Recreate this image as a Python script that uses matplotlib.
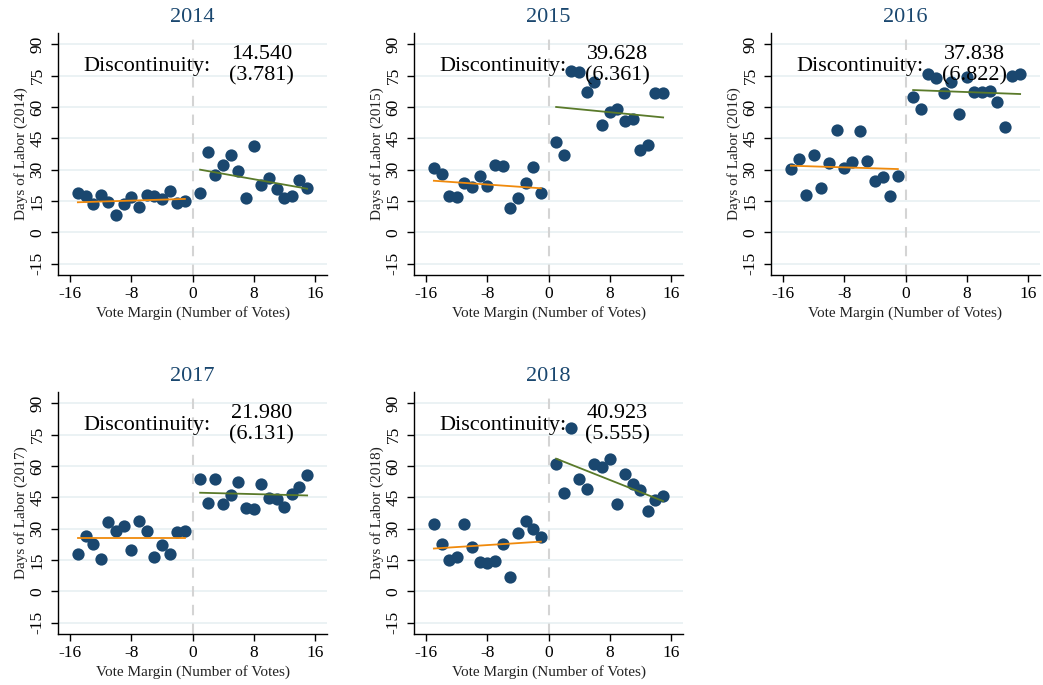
import matplotlib
matplotlib.use("Agg")
import matplotlib.pyplot as plt
import numpy as np

plt.rcParams['font.family'] = ['Liberation Serif', 'DejaVu Serif']
plt.rcParams['axes.unicode_minus'] = False

years = ["2014", "2015", "2016", "2017", "2018"]
x_left = [-15, -14, -13, -12, -11, -10, -9, -8, -7, -6, -5, -4, -3, -2, -1]
x_right = [1, 2, 3, 4, 5, 6, 7, 8, 9, 10, 11, 12, 13, 14, 15]

y_left_2014 = [18.7, 17.4, 13.6, 17.9, 14.7, 8.1, 13.6, 17.1, 12.3, 18.0, 17.4, 16.0, 19.8, 14.0, 15.0]
y_right_2014 = [19.0, 38.3, 27.4, 32.1, 36.9, 29.5, 16.6, 41.5, 22.7, 25.8, 20.6, 16.6, 17.4, 25.1, 21.2]
y_left_2015 = [30.6, 27.8, 17.6, 17.1, 23.8, 21.9, 27.1, 22.3, 32.1, 31.9, 11.5, 16.6, 23.5, 31.4, 18.7]
y_right_2015 = [43.4, 37.0, 77.4, 76.6, 67.3, 72.1, 51.4, 57.4, 59.0, 53.5, 54.3, 39.4, 41.8, 66.5, 66.5]
y_left_2016 = [30.5, 34.9, 17.7, 36.9, 21.4, 33.4, 49.0, 30.6, 33.8, 48.5, 34.1, 24.6, 26.3, 17.6, 27.1]
y_right_2016 = [64.9, 59.2, 75.8, 74.0, 66.5, 72.1, 56.6, 74.5, 67.0, 67.0, 67.7, 62.6, 50.6, 74.8, 75.8]
y_left_2017 = [17.9, 26.7, 22.9, 15.5, 33.1, 28.8, 31.2, 19.7, 33.9, 28.8, 16.5, 22.1, 17.9, 28.3, 29.1]
y_right_2017 = [54.0, 42.4, 53.9, 41.9, 46.0, 52.4, 40.1, 39.2, 51.2, 44.8, 44.0, 40.3, 46.4, 49.9, 55.6]
y_left_2018 = [32.4, 22.9, 15.2, 16.5, 32.4, 21.1, 14.1, 13.6, 14.7, 22.7, 6.9, 28.0, 33.6, 30.0, 25.9]
y_right_2018 = [61.1, 47.2, 78.0, 54.0, 49.1, 61.1, 59.7, 63.5, 41.6, 56.4, 51.6, 48.3, 38.4, 43.7, 45.6]

# fitted line endpoints (x = -15 -> -1, and 1 -> 15)
fit_x_left = [-15, -1]
fit_x_right = [1, 15]
fit_left = {"2014": [14.4, 16.0], "2015": [24.7, 21.1], "2016": [31.9, 30.3],
            "2017": [25.3, 25.3], "2018": [20.5, 23.8]}
fit_right = {"2014": [30.0, 20.9], "2015": [60.0, 55.0], "2016": [68.1, 66.2],
             "2017": [47.2, 45.9], "2018": [63.5, 43.2]}

disc = ["14.540", "39.628", "37.838", "21.980", "40.923"]
se = ["(3.781)", "(6.361)", "(6.822)", "(6.131)", "(5.555)"]

y_left = [y_left_2014, y_left_2015, y_left_2016, y_left_2017, y_left_2018]
y_right = [y_right_2014, y_right_2015, y_right_2016, y_right_2017, y_right_2018]

xticks = [-16, -8, 0, 8, 16]
yticks = [-15, 0, 15, 30, 45, 60, 75, 90]

navy = "#1a476f"
orange = "#f08a0c"
green = "#5a7a2a"
gridc = "#e8f0f2"

W, H = 1043, 685
fig = plt.figure(figsize=(W / 100, H / 100), dpi=100)
fig.patch.set_facecolor("white")

lefts = [58, 414, 771, 58, 414]
tops = [33, 33, 33, 392, 392]
aw, ah = 269, 242

for i, yr in enumerate(years):
    ax = fig.add_axes([lefts[i] / W, 1 - (tops[i] + ah) / H, aw / W, ah / H])
    ax.set_xlim(-17.6, 17.6)
    ax.set_ylim(-20.4, 95.4)
    ax.set_yticks(yticks)
    ax.set_xticks(xticks)
    for y in yticks:
        ax.axhline(y, color=gridc, lw=1.2, zorder=0)
    ax.axvline(0, color="#d4d4d4", lw=1.5, ls=(0, (5, 4)), zorder=1)
    ax.scatter(x_left, y_left[i], s=78, color=navy, zorder=3, linewidths=0)
    ax.scatter(x_right, y_right[i], s=78, color=navy, zorder=3, linewidths=0)
    ax.plot(fit_x_left, fit_left[yr], color=orange, lw=1.3, zorder=4)
    ax.plot(fit_x_right, fit_right[yr], color=green, lw=1.3, zorder=4)
    ax.spines['top'].set_visible(False)
    ax.spines['right'].set_visible(False)
    ax.spines['left'].set_linewidth(1.0)
    ax.spines['bottom'].set_linewidth(1.0)
    ax.tick_params(axis='both', direction='out', length=5, width=1.0, labelsize=12.5)
    ax.tick_params(axis='x', pad=3)
    ax.tick_params(axis='y', labelrotation=90, pad=4)
    for lab in ax.get_yticklabels():
        lab.set_va('center')
    ax.set_xlabel("Vote Margin (Number of Votes)", fontsize=11, color="#222222", labelpad=3)
    ax.set_ylabel(f"Days of Labor ({yr})", fontsize=11, color="#222222", labelpad=1)
    ax.set_title(yr, fontsize=16, color=navy, pad=8)
    ax.text(-6, 79.5, "Discontinuity:", fontsize=16, ha='center', va='center', zorder=5)
    ax.text(9, 80, disc[i] + "\n" + se[i], fontsize=16, ha='center', va='center',
            linespacing=1.1, zorder=5)

fig.savefig("out.png", dpi=100)
